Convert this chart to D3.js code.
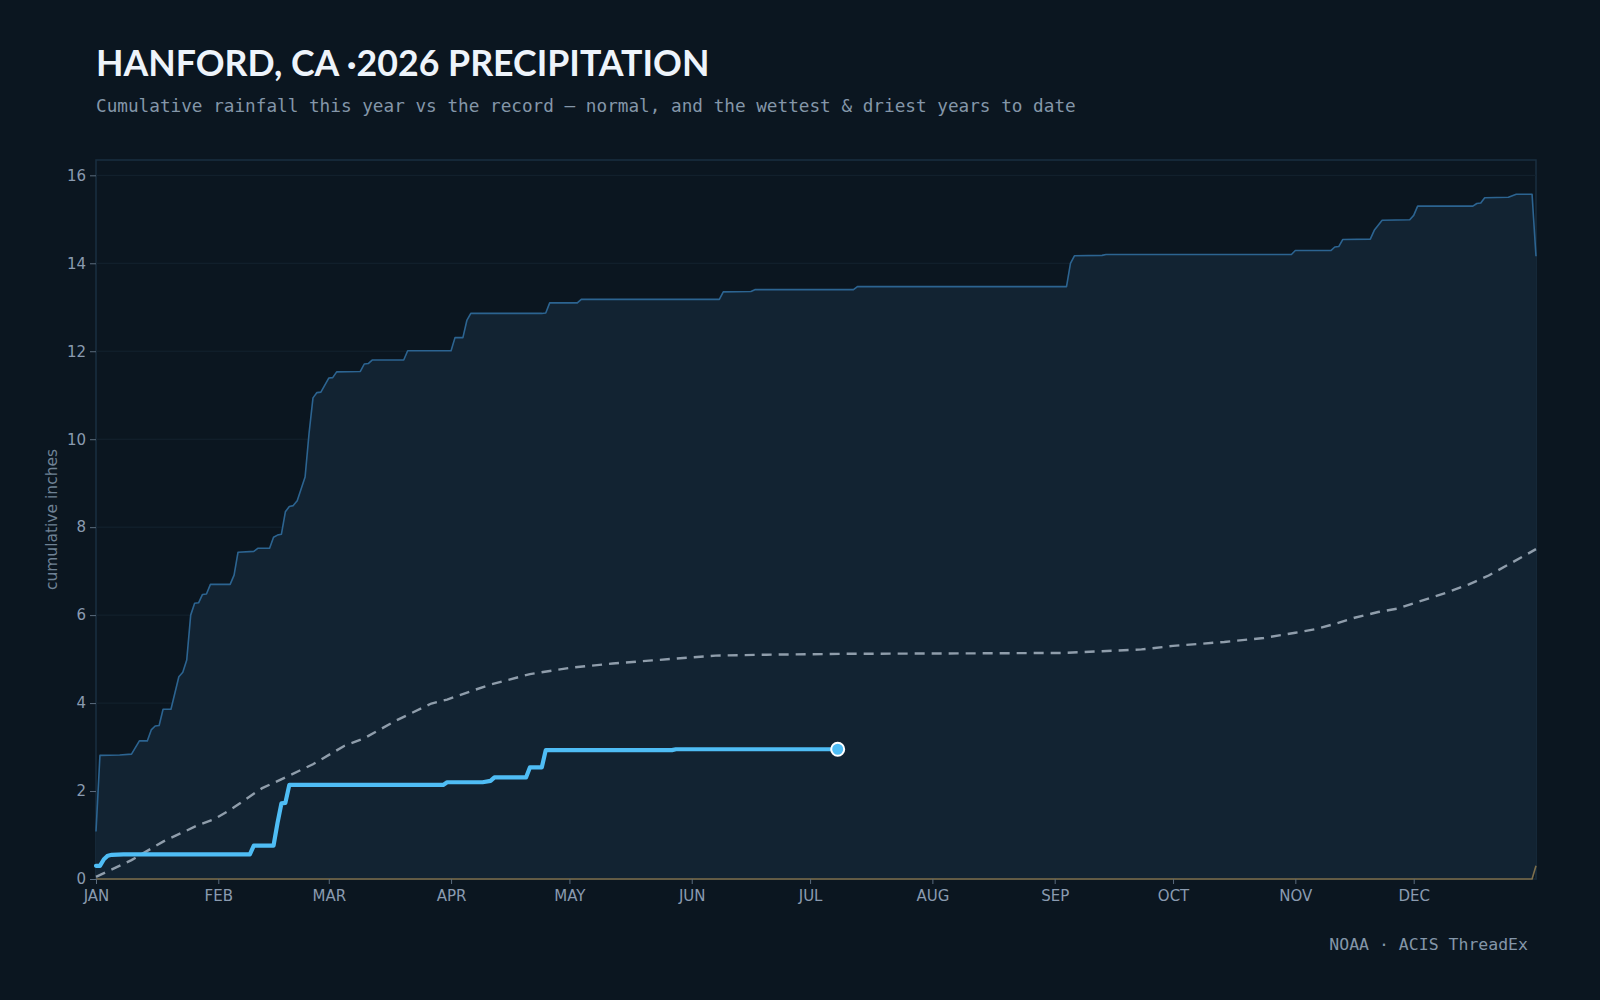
<!DOCTYPE html>
<html>
<head>
<meta charset="utf-8">
<script src="https://cdn.jsdelivr.net/npm/d3@7"></script>
<style>
  html, body { margin: 0; padding: 0; background: #0b1620; }
  svg { display: block; }
</style>
</head>
<body>
<svg id="chart" width="1600" height="1000"></svg>
<script>
// ---------- DATA (day-of-year index, cumulative inches) ----------
const monthStarts = [0, 31, 59, 90, 120, 151, 181, 212, 243, 273, 304, 334];
const monthLabels = ["JAN","FEB","MAR","APR","MAY","JUN","JUL","AUG","SEP","OCT","NOV","DEC"];
const yTicks = [0, 2, 4, 6, 8, 10, 12, 14, 16];

const wettestDays = [0,1,6,9,11,13,14,15,16,17,19,21,22,23,24,25,26,27,28,29,34,35,36,40,41,44,45,46,47,48,49,50,51,53,54,55,56,57,59,60,61,67,68,69,70,78,79,90,91,93,94,95,113,114,115,122,123,158,159,166,167,192,193,246,247,248,255,256,303,304,313,314,315,316,323,324,326,333,334,335,349,350,351,352,358,360,364,365];
const wettestVals = [1.08,2.81,2.82,2.84,3.14,3.14,3.39,3.48,3.49,3.86,3.86,4.6,4.7,4.98,6.0,6.27,6.28,6.47,6.48,6.7,6.7,6.91,7.43,7.45,7.52,7.52,7.77,7.82,7.84,8.35,8.47,8.49,8.6,9.14,10.13,10.94,11.06,11.07,11.39,11.4,11.53,11.54,11.71,11.72,11.8,11.8,12.01,12.01,12.31,12.31,12.7,12.86,12.86,12.87,13.1,13.1,13.18,13.18,13.35,13.36,13.4,13.4,13.47,13.47,14.0,14.17,14.18,14.2,14.2,14.29,14.29,14.37,14.38,14.54,14.55,14.75,14.98,14.99,15.09,15.3,15.3,15.36,15.37,15.49,15.5,15.57,15.57,14.16];

const driestDays = [0, 364, 365];
const driestVals = [0, 0, 0.3];

const normalDays = [0,9,17,26,30,34,42,48,55,63,68,76,85,89,96,100,110,120,131,141,151,157,170,190,220,245,255,265,273,286,296,304,309,314,319,325,330,335,342,348,353,358,362,365];
const normalVals = [0.05,0.43,0.85,1.23,1.36,1.57,2.06,2.31,2.61,3.03,3.2,3.6,3.99,4.08,4.3,4.42,4.66,4.8,4.9,4.97,5.04,5.08,5.1,5.12,5.13,5.14,5.18,5.22,5.3,5.39,5.48,5.6,5.68,5.8,5.94,6.07,6.15,6.3,6.5,6.7,6.9,7.15,7.35,7.5];

const thisYearDays = [0,1,2,3,4,7,39,40,45,46,47,48,49,88,89,98,100,101,109,110,113,114,146,147,188];
const thisYearVals = [0.30,0.30,0.45,0.53,0.55,0.56,0.56,0.76,0.76,1.27,1.72,1.73,2.14,2.14,2.2,2.2,2.23,2.31,2.31,2.54,2.54,2.93,2.93,2.95,2.95];

const titleText = "HANFORD, CA \u00B72026 PRECIPITATION";
const subtitleText = "Cumulative rainfall this year vs the record \u2014 normal, and the wettest & driest years to date";
const sourceText = "NOAA \u00B7 ACIS ThreadEx";
const yLabelText = "cumulative inches";

// ---------- BUILD ----------
const zip = (d, v) => d.map((x, i) => ({ day: x, v: v[i] }));
const wettest = zip(wettestDays, wettestVals);
const driest = zip(driestDays, driestVals);
const normal = zip(normalDays, normalVals);
const thisYear = zip(thisYearDays, thisYearVals);

const driestAt = day => {
  for (let i = 0; i < driest.length - 1; i++) {
    if (day >= driest[i].day && day <= driest[i + 1].day) {
      const t = (day - driest[i].day) / (driest[i + 1].day - driest[i].day);
      return driest[i].v + t * (driest[i + 1].v - driest[i].v);
    }
  }
  return driest[driest.length - 1].v;
};
const band = wettest.map(d => ({ day: d.day, lo: driestAt(d.day), hi: d.v }));

const svg = d3.select("#chart");
const L = 96, R = 1536, T = 160, B = 879;
const maxV = d3.max(wettestVals) * 1.05;

const x = d3.scaleLinear().domain([0, 365]).range([L, R]);
const y = d3.scaleLinear().domain([0, maxV]).range([B, T]);

svg.append("rect").attr("width", 1600).attr("height", 1000).attr("fill", "#0b1620");

// title / subtitle
svg.append("text").attr("x", 96).attr("y", 76)
  .attr("font-family", "Lato, 'Open Sans', sans-serif").attr("font-weight", 700)
  .attr("font-size", 35.7).attr("fill", "#eef4fb").text(titleText);
svg.append("text").attr("x", 96).attr("y", 111.5)
  .attr("font-family", "'DejaVu Sans Mono', monospace")
  .attr("font-size", 17.7).attr("fill", "#8496a9").text(subtitleText);

// frame
svg.append("rect").attr("x", L).attr("y", T).attr("width", R - L).attr("height", B - T)
  .attr("fill", "none").attr("stroke", "#1a2f40").attr("stroke-width", 1.5);

// gridlines
svg.append("g").selectAll("line").data(yTicks).join("line")
  .attr("x1", L).attr("x2", R)
  .attr("y1", d => y(d)).attr("y2", d => y(d))
  .attr("stroke", "#14232f").attr("stroke-width", 1);

// band area
svg.append("path").datum(band)
  .attr("d", d3.area().x(d => x(d.day)).y0(d => y(d.lo)).y1(d => y(d.hi)))
  .attr("fill", "#122332");

// wettest line
svg.append("path").datum(wettest)
  .attr("d", d3.line().x(d => x(d.day)).y(d => y(d.v)))
  .attr("fill", "none").attr("stroke", "#2c6491").attr("stroke-width", 1.6)
  .attr("stroke-linejoin", "round");

// normal dashed
svg.append("path").datum(normal)
  .attr("d", d3.line().x(d => x(d.day)).y(d => y(d.v)))
  .attr("fill", "none").attr("stroke", "#8f9dab").attr("stroke-width", 2.4)
  .attr("stroke-dasharray", "10,7");

// driest line
svg.append("path").datum(driest)
  .attr("d", d3.line().x(d => x(d.day)).y(d => y(d.v)))
  .attr("fill", "none").attr("stroke", "#7d6f4c").attr("stroke-width", 1.6);

// this year
svg.append("path").datum(thisYear)
  .attr("d", d3.line().x(d => x(d.day)).y(d => y(d.v)))
  .attr("fill", "none").attr("stroke", "#4fbdf5").attr("stroke-width", 4.2)
  .attr("stroke-linejoin", "round").attr("stroke-linecap", "round");

const last = thisYear[thisYear.length - 1];
svg.append("circle").attr("cx", x(last.day)).attr("cy", y(last.v)).attr("r", 6.5)
  .attr("fill", "#4fbdf5").attr("stroke", "#ffffff").attr("stroke-width", 2);

// axes
const xAxis = d3.axisBottom(x).tickValues(monthStarts)
  .tickFormat((d, i) => monthLabels[i]).tickSize(5).tickPadding(6);
const gx = svg.append("g").attr("transform", `translate(0,${B})`).call(xAxis);
gx.select(".domain").remove();
gx.selectAll(".tick line").attr("stroke", "#5b6c7d");
gx.selectAll(".tick text").attr("fill", "#8a9bb0")
  .attr("font-family", "'DejaVu Sans', sans-serif").attr("font-size", 15);

const yAxis = d3.axisLeft(y).tickValues(yTicks).tickSize(6).tickPadding(4);
const gy = svg.append("g").attr("transform", `translate(${L},0)`).call(yAxis);
gy.select(".domain").remove();
gy.selectAll(".tick line").attr("stroke", "#5b6c7d");
gy.selectAll(".tick text").attr("fill", "#8a9bb0")
  .attr("font-family", "'DejaVu Sans', sans-serif").attr("font-size", 15);

// y label
svg.append("text").attr("transform", `translate(57,${(T + B) / 2}) rotate(-90)`)
  .attr("text-anchor", "middle")
  .attr("font-family", "'DejaVu Sans', sans-serif").attr("font-size", 15.5)
  .attr("fill", "#6f8295").text(yLabelText);

// source
svg.append("text").attr("x", 1528).attr("y", 950).attr("text-anchor", "end")
  .attr("font-family", "'DejaVu Sans Mono', monospace")
  .attr("font-size", 16.5).attr("fill", "#8496a9").text(sourceText);
</script>
</body>
</html>
